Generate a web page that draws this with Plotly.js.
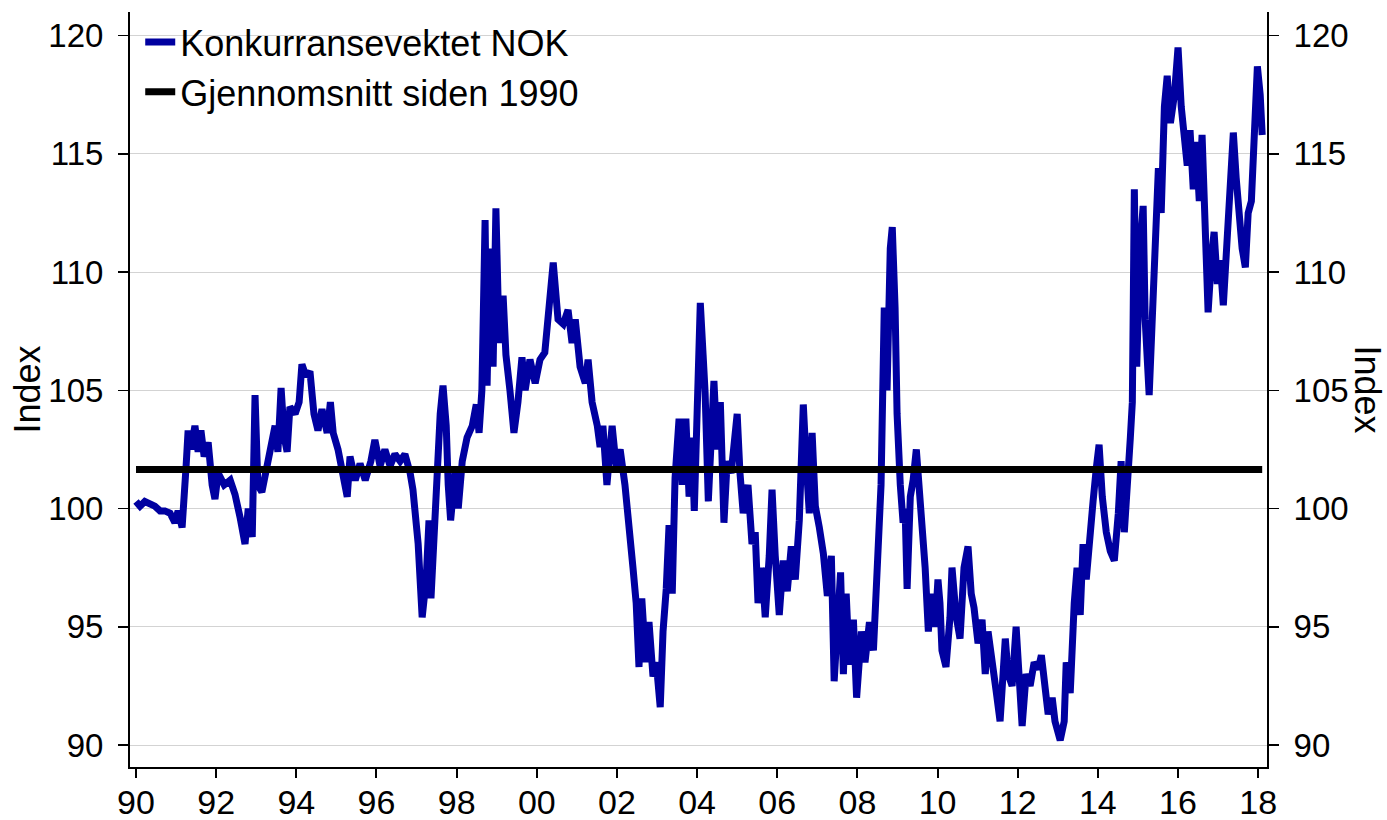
<!DOCTYPE html>
<html>
<head>
<meta charset="utf-8">
<script src="https://cdn.plot.ly/plotly-3.0.1.min.js"></script>
<style>html,body{margin:0;padding:0;background:#fff;}#chart{width:1387px;height:820px;}</style>
</head>
<body>
<div id="chart"></div>
<script>
// Decimal year positions
const years = [
1990.00,1990.10,1990.22,1990.35,1990.47,1990.60,1990.72,1990.85,1990.97,1991.05,1991.15,1991.25,1991.30,1991.37,1991.47,1991.55,1991.62,1991.70,1991.80,1991.90,1991.97,
1992.05,1992.20,1992.35,1992.47,1992.60,1992.72,1992.80,1992.90,1992.97,1993.04,1993.14,1993.24,1993.34,1993.47,1993.54,1993.62,1993.70,1993.77,1993.84,1993.97,
1994.07,1994.14,1994.24,1994.34,1994.44,1994.54,1994.64,1994.77,1994.85,1994.92,1995.04,1995.17,1995.27,1995.34,1995.47,1995.59,1995.72,1995.86,1995.96,
1996.09,1996.21,1996.34,1996.46,1996.59,1996.71,1996.84,1996.91,1997.04,1997.14,1997.24,1997.31,1997.36,1997.44,1997.51,1997.59,1997.66,1997.74,1997.79,1997.85,1997.96,
1998.04,1998.14,1998.26,1998.39,1998.49,1998.56,1998.63,1998.71,1998.76,1998.83,1998.91,1998.98,1999.06,1999.16,1999.23,1999.33,1999.43,1999.53,1999.63,1999.71,1999.83,1999.96,
2000.08,2000.20,2000.30,2000.41,2000.53,2000.66,2000.78,2000.88,2000.96,2001.08,2001.21,2001.28,2001.38,2001.51,2001.58,2001.65,2001.75,2001.88,2001.98,
2002.08,2002.20,2002.28,2002.40,2002.48,2002.55,2002.62,2002.72,2002.80,2002.90,2002.98,2003.08,2003.15,2003.23,2003.30,2003.38,2003.45,2003.55,2003.63,2003.72,2003.80,2003.87,2003.93,
2004.00,2004.08,2004.15,2004.20,2004.28,2004.35,2004.42,2004.50,2004.58,2004.67,2004.75,2004.85,2005.00,2005.07,2005.15,2005.27,2005.37,2005.45,2005.52,2005.62,2005.70,2005.80,2005.87,2005.95,
2006.05,2006.15,2006.25,2006.35,2006.45,2006.55,2006.65,2006.72,2006.80,2006.87,2006.95,2007.05,2007.15,2007.25,2007.35,2007.42,2007.50,2007.58,2007.65,2007.72,2007.80,2007.90,2007.98,
2008.10,2008.19,2008.30,2008.40,2008.50,2008.59,2008.67,2008.74,2008.82,2008.87,2008.94,2008.99,2009.07,2009.14,2009.19,2009.24,2009.32,2009.39,2009.47,2009.54,2009.64,2009.69,2009.77,2009.84,2009.94,
2010.01,2010.06,2010.11,2010.21,2010.31,2010.36,2010.46,2010.56,2010.66,2010.76,2010.84,2010.91,2011.01,2011.11,2011.19,2011.26,2011.36,2011.46,2011.56,2011.69,2011.76,2011.86,2011.96,
2012.04,2012.11,2012.21,2012.31,2012.41,2012.51,2012.59,2012.66,2012.76,2012.86,2012.93,2013.06,2013.16,2013.21,2013.31,2013.41,2013.48,2013.56,2013.63,2013.71,2013.81,2013.88,2013.96,
2014.03,2014.11,2014.21,2014.31,2014.41,2014.51,2014.58,2014.66,2014.73,2014.81,2014.86,2014.91,2014.97,2015.05,2015.13,2015.18,2015.28,2015.36,2015.43,2015.51,2015.58,2015.66,2015.73,2015.81,2015.91,
2016.00,2016.08,2016.15,2016.23,2016.30,2016.38,2016.45,2016.53,2016.60,2016.68,2016.75,2016.83,2016.90,2016.98,2017.05,2017.13,2017.20,2017.28,2017.38,2017.45,2017.53,2017.60,2017.68,2017.75,2017.83,2017.90,2017.98,
2018.05,2018.10
];
// Konkurransevektet NOK (index values)
const nok = [
100.3,100.1,100.3,100.2,100.1,99.9,99.9,99.8,99.4,99.9,99.2,101.8,103.3,102.5,103.5,102.4,103.3,102.2,102.8,101.0,100.4,
101.5,101.0,101.2,100.6,99.6,98.5,100.0,98.8,104.8,101.0,100.7,101.6,102.5,103.5,102.4,105.1,103.0,102.4,104.3,104.0,
104.5,106.1,105.6,105.8,104.0,103.3,104.2,103.2,104.5,103.2,102.5,101.5,100.5,102.2,101.2,101.9,101.2,102.0,102.9,
101.8,102.5,101.8,102.3,102.0,102.3,101.5,100.8,98.5,95.4,97.0,99.5,96.2,99.5,102.2,104.0,105.2,103.5,101.0,99.5,101.5,
100.0,102.0,103.0,103.5,104.4,103.2,105.0,112.2,105.2,111.0,106.0,112.7,107.0,109.0,106.5,105.0,103.2,104.5,106.4,105.0,106.3,105.3,
106.3,106.6,108.5,110.4,108.0,107.8,108.4,107.0,108.0,106.0,105.3,106.3,104.5,103.5,102.6,103.5,101.0,103.5,101.8,
102.5,101.0,99.8,97.5,96.0,93.3,96.2,93.5,95.2,92.9,93.5,91.6,94.8,96.6,99.3,96.4,101.3,103.8,101.0,103.8,100.5,103.0,99.9,
104.0,108.7,106.5,104.9,100.3,103.5,105.4,102.5,104.5,99.4,102.0,101.5,104.0,101.5,99.8,101.0,98.5,99.0,96.0,97.5,95.4,98.0,100.8,98.0,
95.5,97.8,96.5,98.4,97.0,99.5,104.4,102.0,99.8,103.2,100.1,99.2,98.1,96.3,98.0,92.7,95.5,97.3,93.0,96.4,93.4,95.3,92.0,
94.8,93.5,95.2,94.0,97.0,101.0,108.5,105.0,111.0,111.9,108.5,104.0,101.0,99.4,100.0,96.6,100.5,101.2,102.5,101.0,99.0,97.5,94.8,96.4,95.0,
97.0,96.0,94.0,93.3,95.4,97.5,95.5,94.5,97.5,98.4,96.4,95.8,94.3,95.3,93.0,94.8,93.2,92.3,91.0,94.5,93.0,92.5,95.0,
93.0,90.8,93.0,92.5,93.5,93.2,93.8,92.5,91.3,92.0,91.0,90.2,91.0,93.5,92.2,96.0,97.5,95.5,98.5,97.0,99.5,100.3,101.7,
102.7,100.5,99.0,98.2,97.8,99.8,102.0,99.0,100.5,103.0,104.5,113.5,106.0,111.0,112.8,108.0,104.8,108.0,110.8,114.4,112.5,117.0,118.3,116.3,117.5,
119.5,117.0,116.0,114.5,116.0,113.5,115.5,113.0,115.8,111.0,108.3,110.5,111.7,109.5,110.5,108.6,111.0,113.5,115.9,114.0,112.0,111.0,110.2,112.5,113.0,116.5,118.7,
117.5,115.8
];
// Gjennomsnitt siden 1990
const avgYears = [1990.0, 2018.1];
const avgValue = [101.65, 101.65];

// Axis ticks
const xTickVals = [1990,1992,1994,1996,1998,2000,2002,2004,2006,2008,2010,2012,2014,2016,2018];
const xTickText = ['90','92','94','96','98','00','02','04','06','08','10','12','14','16','18'];
const yTickVals = [90,95,100,105,110,115,120];

const FONT = 'Liberation Sans Narrow, Arial Narrow, sans-serif';
const YTICK = {family: FONT, size: 33, color: '#000'};
const XTICK = {family: FONT, size: 34, color: '#000'};
const traces = [
  {x: years, y: nok, type: 'scatter', mode: 'lines', name: 'Konkurransevektet NOK',
   line: {color: '#0000A0', width: 7}},
  {x: avgYears, y: avgValue, type: 'scatter', mode: 'lines', name: 'Gjennomsnitt siden 1990',
   line: {color: '#000000', width: 7}},
  {x: [years[0]], y: [nok[0]], yaxis: 'y2', type: 'scatter', mode: 'markers',
   marker: {opacity: 0}, showlegend: false, hoverinfo: 'skip'}
];
const layout = {
  width: 1387, height: 820,
  margin: {l: 130, r: 120, t: 12, b: 53, autoexpand: false},
  paper_bgcolor: '#fff', plot_bgcolor: '#fff',
  font: {family: FONT, size: 34, color: '#000'},
  showlegend: true,
  legend: {x: 0.009, y: 1.0, xanchor: 'left', yanchor: 'top', bgcolor: 'rgba(0,0,0,0)',
           font: {family: FONT, size: 36, color: '#000'}, tracegroupgap: 0, itemwidth: 30},
  xaxis: {range: [1989.85, 2018.22], tickmode: 'array', tickvals: xTickVals, ticktext: xTickText,
          showgrid: false, zeroline: false, showline: true, linecolor: '#000', linewidth: 2,
          ticks: 'outside', ticklen: 9, tickwidth: 2, tickcolor: '#000',
          ticklabelstandoff: -5, tickfont: XTICK, automargin: false},
  yaxis: {range: [89.07, 121.0], tickmode: 'array', tickvals: yTickVals,
          showgrid: true, gridcolor: '#d3d3d3', gridwidth: 1, zeroline: false,
          showline: true, linecolor: '#000', linewidth: 2,
          ticks: 'outside', ticklen: 10, tickwidth: 1.5, tickcolor: '#000',
          ticklabelstandoff: 8, tickfont: YTICK, automargin: false},
  yaxis2: {range: [89.07, 121.0], overlaying: 'y', side: 'right', tickmode: 'array', tickvals: yTickVals,
           showgrid: false, zeroline: false, showline: true, linecolor: '#000', linewidth: 2,
           ticks: 'outside', ticklen: 10, tickwidth: 1.5, tickcolor: '#000',
           ticklabelstandoff: 8, tickfont: YTICK, automargin: false},
  annotations: [
    {text: 'Index', xref: 'paper', yref: 'paper', x: 0, y: 0.5, xanchor: 'center', yanchor: 'middle',
     xshift: -103, showarrow: false, textangle: -90, font: {family: FONT, size: 36, color: '#000'}},
    {text: 'Index', xref: 'paper', yref: 'paper', x: 1, y: 0.5, xanchor: 'center', yanchor: 'middle',
     xshift: 100, showarrow: false, textangle: 90, font: {family: FONT, size: 36, color: '#000'}}
  ]
};
Plotly.newPlot('chart', traces, layout, {displayModeBar: false, staticPlot: true});
</script>
</body>
</html>
